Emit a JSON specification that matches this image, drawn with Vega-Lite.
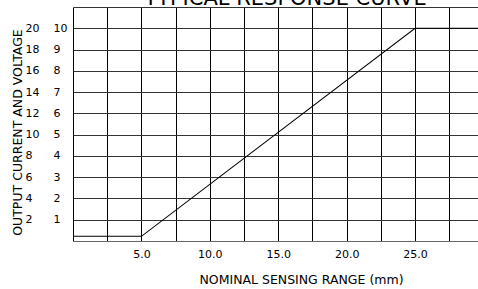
{
  "$schema": "https://vega.github.io/schema/vega-lite/v6.json",
  "width": 405,
  "height": 234,
  "autosize": {"type": "none"},
  "padding": {"left": 73, "top": 7, "right": 0, "bottom": 48},
  "config": {
    "view": {"stroke": null},
    "font": "DejaVu Sans"
  },
  "data": {
    "values": [
      {"x": 0, "v": 0.22, "c": 0.44},
      {"x": 5, "v": 0.22, "c": 0.44},
      {"x": 25, "v": 10, "c": 20},
      {"x": 29.6, "v": 10, "c": 20}
    ]
  },
  "layer": [
    {
      "mark": {"type": "line", "color": "black", "strokeWidth": 1.1},
      "encoding": {
        "x": {
          "field": "x",
          "type": "quantitative",
          "scale": {"domain": [0, 29.6], "nice": false, "zero": false},
          "axis": {
            "values": [0, 2.5, 5, 7.5, 10, 12.5, 15, 17.5, 20, 22.5, 25, 27.5],
            "labelExpr": "datum.value % 5 == 0 && datum.value > 0 ? format(datum.value, '.1f') : ''",
            "grid": true,
            "gridColor": "black",
            "gridOpacity": 1,
            "gridWidth": 1,
            "ticks": false,
            "domain": true,
            "domainColor": "#666",
            "labelFontSize": 11,
            "labelColor": "black",
            "labelPadding": 7,
            "labelOverlap": false,
            "title": "NOMINAL SENSING RANGE (mm)",
            "titleFontSize": 12.5,
            "titleFontWeight": "normal",
            "titleColor": "black",
            "titlePadding": 14,
            "titleX": 228
          }
        },
        "y": {
          "field": "v",
          "type": "quantitative",
          "scale": {"domain": [0, 11], "nice": false, "zero": false},
          "axis": {
            "orient": "left",
            "values": [0, 1, 2, 3, 4, 5, 6, 7, 8, 9, 10, 11],
            "labelExpr": "datum.value >= 1 && datum.value <= 10 ? datum.value + '' : ''",
            "grid": true,
            "gridColor": "#333",
            "gridOpacity": 1,
            "gridWidth": 1,
            "ticks": false,
            "domain": false,
            "labelAlign": "left",
            "labelBaseline": "middle",
            "labelPadding": 20,
            "labelFontSize": 11,
            "labelColor": "black",
            "labelOverlap": false,
            "title": null
          }
        }
      }
    },
    {
      "mark": {"type": "point", "opacity": 0},
      "encoding": {
        "x": {
          "field": "x",
          "type": "quantitative",
          "scale": {"domain": [0, 29.6], "nice": false, "zero": false},
          "axis": {
            "orient": "top",
            "labels": false,
            "grid": false,
            "ticks": false,
            "domain": false,
            "title": "TYPICAL RESPONSE CURVE",
            "titleFontSize": 21,
            "titleFontWeight": "normal",
            "titleColor": "black",
            "titleBaseline": "alphabetic",
            "titleAlign": "center",
            "titleX": 212,
            "titleY": -3
          }
        },
        "y": {
          "field": "c",
          "type": "quantitative",
          "scale": {"domain": [0, 22], "nice": false, "zero": false},
          "axis": {
            "orient": "left",
            "values": [2, 4, 6, 8, 10, 12, 14, 16, 18, 20],
            "grid": false,
            "ticks": false,
            "domain": false,
            "labelAlign": "left",
            "labelBaseline": "middle",
            "labelPadding": 48,
            "labelFontSize": 11,
            "labelColor": "black",
            "labelOverlap": false,
            "title": "OUTPUT CURRENT AND VOLTAGE",
            "titleFontSize": 12.5,
            "titleFontWeight": "normal",
            "titleColor": "black",
            "titleAngle": -90,
            "titleAlign": "center",
            "titleBaseline": "middle",
            "titleX": -56,
            "titleY": 125
          }
        }
      }
    }
  ],
  "resolve": {"scale": {"y": "independent", "x": "independent"}}
}
